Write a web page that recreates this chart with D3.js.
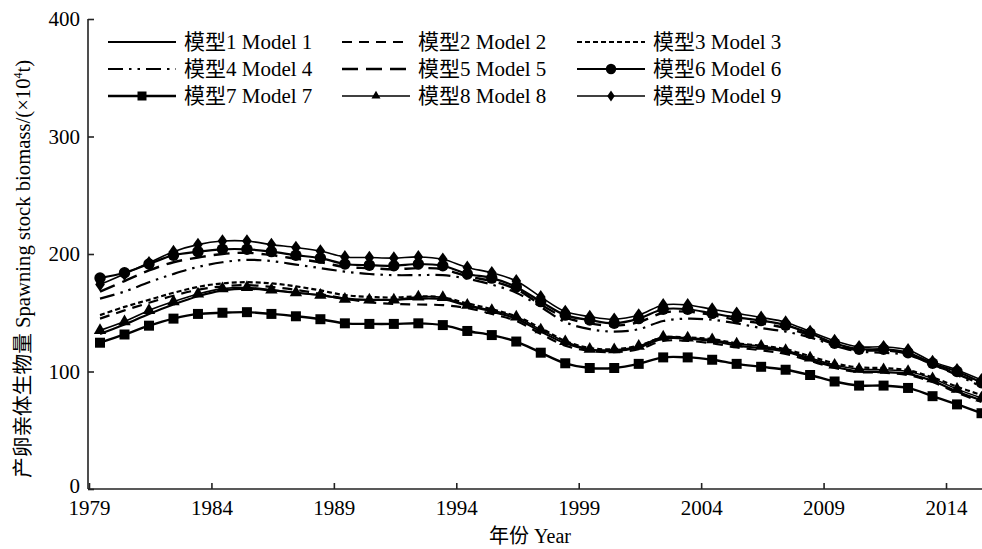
<!DOCTYPE html>
<html>
<head>
<meta charset="utf-8">
<script src="https://cdn.jsdelivr.net/npm/d3@7"></script>
<style>
  html, body { margin: 0; padding: 0; background: #fff; }
  svg { display: block; }
  text { font-family: "Liberation Serif", "Times New Roman", "Noto Sans CJK SC", serif; fill: #000; }
</style>
</head>
<body>
<svg id="chart" width="982" height="549"></svg>
<script>
// Spawning stock biomass (×10^4 t) estimated by nine assessment models, 1979–2015
const years = d3.range(1979, 2016);

const model1 = [132,140,149,157,164,169,170.5,169,167,165,162,161,161,162,161.5,156,151,145,134,124,118.5,117.5,120.5,128,128,126,122,120,117,110,104,100,99.5,98,92,83,75.5];
const model2 = [145,152,158.5,164.5,169.5,172.5,173.5,172,169.5,166,162,159,157.5,157,156.5,154,149,143,132,122,117.5,116.5,119,126,126,124,120.5,118,115,109,103,99.5,99,97,91,82,74];
const model3 = [148,155,161,167,172,175,176,175,172.5,169,165,163.5,163,164,163,158,153,147,137,126,120,119,122,129,129,127.5,124,122,119,113,107,103.5,103,101,95,87,80];
const model4 = [162,168,176,183,189,193,195,194,191,188,185,183,182,182,182,179,174,167,155,142,136,134,136,143,145,144,141,137,134,129,122,117,116,114,106,97,87];
const model5 = [168,177,186,193,197,200,201,199,196,193,189,188,187,188,187,181,177,170,157,146,141,139,142,150,151,148,144,141,137,131,123,118,118,115,106,98,89];
const model6 = [179.5,184,191.5,199,202,204,204,202,199,196.5,191.5,190.5,190,191.5,190,183,179.5,172,159.5,148,143.8,141,145,153,153,149.5,146,143.3,139.5,132.5,124,119,119,116,107,100,90.5];
const model7 = [124.5,131.5,139,145,149,150,150.5,149,147,144.5,141,140.5,140.5,141,139.5,134.5,131,125.5,116,107,103,103,106.5,112,112,110,106.5,104,101.5,97,91.5,88,88,86,79,72,64.5];
const model8 = [135,142.5,152,159.5,166,170.5,171.5,169.5,167,165,161.5,161,161,163.5,163,156.5,152,146.5,135.5,125.5,119,118.5,121.5,129.5,128.5,127,123.5,121.5,118,111.5,105.5,102,101.5,100,94,85,77.5];
const model9 = [174,183,192.5,202,208,211,211,208,205.5,202.5,197.5,197,196.5,197.5,195.5,188.5,184,177,163.5,151,146.7,144.4,148,156.6,156.6,153,149.5,146,142,134,126.2,121,121,118.3,108.4,101.3,92.8];

const modelNames = ["模型1 Model 1","模型2 Model 2","模型3 Model 3","模型4 Model 4","模型5 Model 5","模型6 Model 6","模型7 Model 7","模型8 Model 8","模型9 Model 9"];
const xTicks = [1979, 1984, 1989, 1994, 1999, 2004, 2009, 2014];
const yTicks = [0, 100, 200, 300, 400];

const seriesValues = [model1, model2, model3, model4, model5, model6, model7, model8, model9];

// line style of each model: dash pattern, width, marker
const styles = [
  { dash: null,                 width: 2.2, marker: null },
  { dash: "10,7",               width: 2.2, marker: null },
  { dash: "5,3",                width: 2.2, marker: null },
  { dash: "15,6,2.5,6,2.5,6",   width: 2.2, marker: null },
  { dash: "16,8",               width: 2.4, marker: null },
  { dash: null,                 width: 2.2, marker: "circle" },
  { dash: null,                 width: 2.4, marker: "square" },
  { dash: null,                 width: 1.6, marker: "triangle" },
  { dash: null,                 width: 1.6, marker: "diamond" }
];

const svg = d3.select("#chart");
const plotLeft = 88, plotTop = 19, plotBottom = 489, plotRight = 982;

// each year's point sits a little to the right of its tick
const pointOffset = 0.45;
const x = d3.scaleLinear().domain([1979, 2015.5]).range([plotLeft + 1, plotLeft + 1 + 36.5 * 24.486]);
const y = d3.scaleLinear().domain([0, 400]).range([plotBottom, plotTop]);

const line = d3.line()
  .x(d => x(d.year + pointOffset))
  .y(d => y(d.value))
  .curve(d3.curveCatmullRom.alpha(0.5));

function markerPath(type, s) {
  if (type === "circle") return d3.symbol(d3.symbolCircle, s * s * 0.85)();
  if (type === "square") return d3.symbol(d3.symbolSquare, s * s)();
  if (type === "triangle") return d3.symbol(d3.symbolTriangle, s * s * 0.55)();
  if (type === "diamond") {
    const w = s * 0.42, h = s * 0.6;
    return `M0,${-h}L${w},0L0,${h}L${-w},0Z`;
  }
  return null;
}
const markerSize = { circle: 11, square: 10, triangle: 11, diamond: 11.5 };

const plot = svg.append("g");

seriesValues.forEach((vals, i) => {
  const st = styles[i];
  const data = years.map((yr, k) => ({ year: yr, value: vals[k] }));
  plot.append("path")
    .datum(data)
    .attr("fill", "none")
    .attr("stroke", "#000")
    .attr("stroke-width", st.width)
    .attr("stroke-dasharray", st.dash)
    .attr("stroke-linejoin", "round")
    .attr("d", line);
  if (st.marker) {
    plot.append("g").selectAll("path")
      .data(data)
      .join("path")
      .attr("transform", d => `translate(${x(d.year + pointOffset)},${y(d.value)})`)
      .attr("d", markerPath(st.marker, markerSize[st.marker]))
      .attr("fill", "#000");
  }
});

// axes
const xAxis = d3.axisBottom(x).tickValues(xTicks).tickFormat(d3.format("d")).tickSizeInner(-6).tickSizeOuter(0).tickPadding(11);
const gx = svg.append("g").attr("transform", `translate(0,${plotBottom})`).call(xAxis);
gx.select(".domain").attr("stroke", "#222").attr("stroke-width", 1.6).attr("d", `M${plotLeft},0H${plotRight}`);
gx.selectAll(".tick line").attr("stroke", "#222").attr("stroke-width", 1.6);
gx.selectAll(".tick text").attr("font-size", 21).attr("dy", "0.72em")
  .attr("font-family", "'Liberation Serif', 'Times New Roman', serif");

const yAxis = d3.axisLeft(y).tickValues(yTicks).tickSizeInner(-6).tickSizeOuter(0).tickPadding(8);
const gy = svg.append("g").attr("transform", `translate(${plotLeft},0)`).call(yAxis);
gy.select(".domain").attr("stroke", "#222").attr("stroke-width", 1.6).attr("d", `M0,${plotTop}V${plotBottom}`);
gy.selectAll(".tick line").attr("stroke", "#222").attr("stroke-width", 1.6);
gy.selectAll(".tick text").attr("font-size", 21)
  .attr("font-family", "'Liberation Serif', 'Times New Roman', serif");
// the zero label sits a touch higher so it clears the first year label
gy.selectAll(".tick").filter(d => d === 0).select("text").attr("dy", "0.15em");

// axis titles
svg.append("text")
  .attr("x", 530).attr("y", 543)
  .attr("text-anchor", "middle")
  .attr("font-size", 20)
  .text("年份 Year");

const yTitle = svg.append("text")
  .attr("transform", `translate(30,478) rotate(-90)`)
  .attr("text-anchor", "start")
  .attr("font-size", 20.7);
yTitle.append("tspan").text("产卵亲体生物量 Spawning stock biomass/(×10");
yTitle.append("tspan").attr("font-size", 12).attr("dy", -8).text("4");
yTitle.append("tspan").attr("dy", 8).text("t)");

// legend: three columns, three rows
const legendCols = [108, 342, 577];
const legendRows = [42, 69, 96];
const sampleLen = 68;
const legend = svg.append("g");
modelNames.forEach((name, i) => {
  const st = styles[i];
  const lx = legendCols[i % 3], ly = legendRows[Math.floor(i / 3)];
  const g = legend.append("g").attr("transform", `translate(${lx},${ly})`);
  g.append("line")
    .attr("x1", 0).attr("x2", sampleLen).attr("y1", 0).attr("y2", 0)
    .attr("stroke", "#000")
    .attr("stroke-width", st.width)
    .attr("stroke-dasharray", st.dash);
  if (st.marker) {
    const legendSize = { circle: 10, square: 9, triangle: 8, diamond: 9 };
    g.append("path")
      .attr("transform", `translate(${sampleLen / 2},0)`)
      .attr("d", markerPath(st.marker, legendSize[st.marker]))
      .attr("fill", "#000");
  }
  g.append("text")
    .attr("x", sampleLen + 8).attr("y", 0).attr("dy", "0.35em")
    .attr("font-size", 21)
    .text(name);
});
</script>
</body>
</html>
